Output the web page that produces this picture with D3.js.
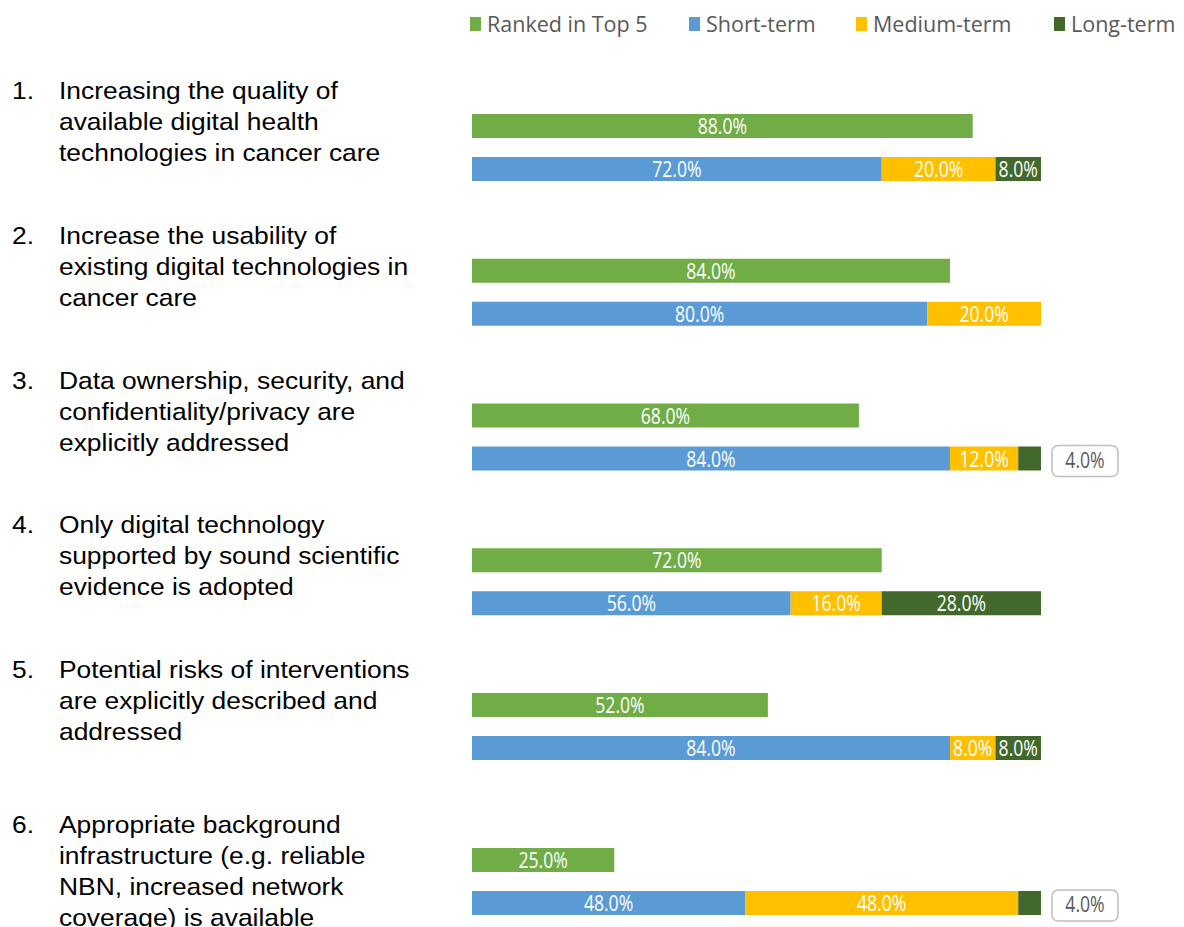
<!DOCTYPE html>
<html><head><meta charset="utf-8">
<script src="https://cdn.jsdelivr.net/npm/d3@7"></script>
<style>body{margin:0;background:#fff;} svg{display:block;}</style>
</head><body>
<script>
const categories = [
  ["Increasing the quality of", "available digital health", "technologies in cancer care"],
  ["Increase the usability of", "existing digital technologies in", "cancer care"],
  ["Data ownership, security, and", "confidentiality/privacy are", "explicitly addressed"],
  ["Only digital technology", "supported by sound scientific", "evidence is adopted"],
  ["Potential risks of interventions", "are explicitly described and", "addressed"],
  ["Appropriate background", "infrastructure (e.g. reliable", "NBN, increased network", "coverage) is available"]
];
const rankedTop5 = [88, 84, 68, 72, 52, 25];
const shortTerm  = [72, 80, 84, 56, 84, 48];
const mediumTerm = [20, 20, 12, 16, 8, 48];
const longTerm   = [8, 0, 4, 28, 8, 4];
const seriesNames = ["Ranked in Top 5", "Short-term", "Medium-term", "Long-term"];
const colors = ["#70AD47", "#5B9BD5", "#FFC000", "#43682B"];
const calloutIdx = [2, 5]; // long-term labels drawn as callouts

const W = 1184, H = 927;
const svg = d3.select("body").append("svg").attr("width", W).attr("height", H);

const x = d3.scaleLinear().domain([0, 100]).range([472, 1041]);
const gy = d3.scaleLinear().domain([0, 4, 5]).range([114, 693, 848]);
const barH = 24, rowGap = 43;
const fmt = d => d.toFixed(1) + "%";
const labFont = "'Open Sans', Lato, sans-serif";
const legFont = "'Open Sans', Lato, sans-serif";

function dataLabel(sel, cx, y, txt, fill) {
  sel.append("text").attr("transform", `translate(${cx},${y}) scale(0.8,1)`)
    .attr("text-anchor", "middle").attr("font-family", labFont).attr("font-size", 22)
    .attr("fill", fill).text(txt);
}

// Legend
const legX = [470, 689, 856, 1054];
const leg = svg.append("g");
seriesNames.forEach((n, i) => {
  leg.append("rect").attr("x", legX[i]).attr("y", 17).attr("width", 11).attr("height", 14).attr("fill", colors[i]);
  leg.append("text").attr("x", legX[i] + 17).attr("y", 32).attr("font-family", legFont)
    .attr("font-size", 21.5).attr("fill", "#595959").text(n);
});

// Left labels
categories.forEach((lines, i) => {
  const g = svg.append("g").attr("font-family", "Arial, 'Liberation Sans', sans-serif").attr("font-size", 24).attr("fill", "#000");
  const base = gy(i) - 15;
  g.append("text").attr("transform", `translate(12,${base}) scale(1.1,1)`).text((i + 1) + ".");
  lines.forEach((l, j) => g.append("text").attr("transform", `translate(59,${base + j * 31}) scale(1.1,1)`).text(l));
});

// Green bars
const gBars = svg.append("g");
rankedTop5.forEach((v, i) => {
  gBars.append("rect").attr("x", x(0)).attr("y", gy(i)).attr("width", x(v) - x(0)).attr("height", barH).attr("fill", colors[0]);
  dataLabel(gBars, (x(0) + x(v)) / 2, gy(i) + 20, fmt(v), "#fff");
});

// Stacked bars
const stackRows = shortTerm.map((s, i) => ({i, s, m: mediumTerm[i], l: longTerm[i]}));
const stack = d3.stack().keys(["s", "m", "l"])(stackRows);
const sBars = svg.append("g");
stack.forEach((layer, k) => {
  layer.forEach((d, i) => {
    const v = d[1] - d[0];
    if (v <= 0) return;
    const y0 = gy(i) + rowGap;
    sBars.append("rect").attr("x", x(d[0])).attr("y", y0).attr("width", x(d[1]) - x(d[0])).attr("height", barH).attr("fill", colors[k + 1]);
    if (k === 2 && calloutIdx.includes(i)) {
      const cx = x(d[1]) + 44;
      sBars.append("rect").attr("x", cx - 33).attr("y", y0 - 1).attr("width", 66).attr("height", 31).attr("rx", 6)
        .attr("fill", "#fff").attr("stroke", "#BFBFBF").attr("stroke-width", 1.5);
      dataLabel(sBars, cx, y0 + 21, fmt(v), "#595959");
    } else {
      dataLabel(sBars, (x(d[0]) + x(d[1])) / 2, y0 + 20, fmt(v), "#fff");
    }
  });
});
</script>
</body></html>
